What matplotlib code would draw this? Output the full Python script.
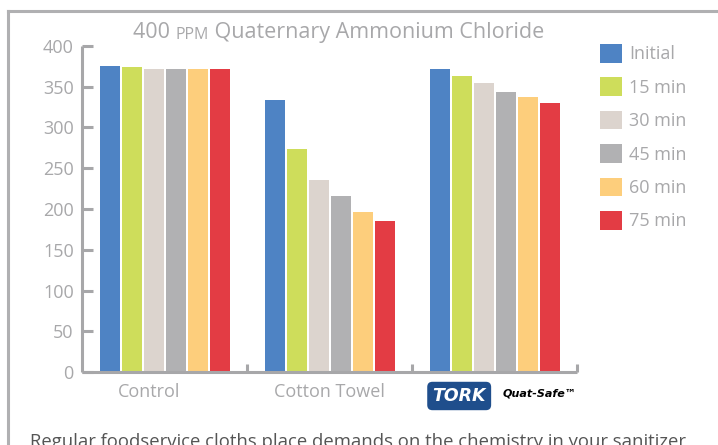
import numpy as np
import matplotlib.pyplot as plt
from matplotlib.lines import Line2D

categories = ["Control", "Cotton Towel", ""]
series = ["Initial", "15 min", "30 min", "45 min", "60 min", "75 min"]
control = [375, 374, 372, 371, 372, 371]
cotton = [333, 273, 235, 216, 196, 185]
quatsafe = [372, 363, 354, 344, 337, 330]
yticks = [0, 50, 100, 150, 200, 250, 300, 350, 400]

colors = ['#4E83C4', '#CEDD5B', '#DCD4CE', '#B1B1B3', '#FDCE7C', '#E33C44']
grey = '#A7A7A9'
txt = '#A8A8AA'

plt.rcParams['font.family'] = ['Open Sans', 'DejaVu Sans']

fig = plt.figure(figsize=(7.18, 4.45), dpi=100)
ax = fig.add_axes([82/718, 1 - 372.3/445, 495/718, 326.5/445])

values = np.array([control, cotton, quatsafe]).T
x = np.arange(len(categories))
pitch = 22/165
for i, name in enumerate(series):
    ax.bar(x + (i - 2.5)*pitch, values[i], width=20/165, color=colors[i],
           label=name, zorder=2)

ax.set_xlim(-0.5, 2.5)
ax.set_ylim(0, 400)
for s in ['top', 'right']:
    ax.spines[s].set_visible(False)
for s in ['left', 'bottom']:
    ax.spines[s].set_color(grey)
    ax.spines[s].set_linewidth(2.2)
    ax.spines[s].set_capstyle('butt')

ax.set_yticks(yticks)
ax.tick_params(axis='y', direction='in', length=8, width=2.2, color=grey,
               labelcolor=txt, labelsize=13, pad=6)
# the Control label sits a bit left of its group in the original
ax.set_xticks([-0.094, 1, 2])
ax.set_xticklabels(categories)
ax.tick_params(axis='x', length=0, labelcolor=txt, labelsize=13, pad=8)
ax.set_xticks([0.5, 1.5, 2.5], minor=True)
ax.tick_params(axis='x', which='minor', direction='in', length=6, width=2.2, color=grey)

# logos under third group, drawn as text
ax.text(0.762, -0.045, "TORK", transform=ax.transAxes, ha='center', va='top',
        fontsize=12.5, fontweight='bold', style='italic', color='white',
        family='DejaVu Sans',
        bbox=dict(boxstyle='round,pad=0.3', fc='#1F4E8C', ec='none'))
ax.text(0.925, -0.05, "Quat-Safe\u2122", transform=ax.transAxes, ha='center', va='top',
        fontsize=8, fontweight='bold', style='italic', color='black',
        family='DejaVu Sans')

# legend
ax.legend(loc='upper left', bbox_to_anchor=(600/718, 1 - 44/445),
          bbox_transform=fig.transFigure, frameon=False, fontsize=13,
          handlelength=1.2, handleheight=1.2, handletextpad=0.4,
          labelspacing=0.78, borderpad=0, borderaxespad=0, labelcolor=txt)

# title with small-caps PPM
t1 = fig.text(133/718, 1 - 38/445, "400 ", fontsize=15.5, color=txt, va='baseline')
t2 = plt.annotate("PPM", xy=(1, 0), xycoords=t1, xytext=(0, 0),
                  textcoords='offset points', fontsize=11.5, color=txt,
                  va='bottom', ha='left', annotation_clip=False)
plt.annotate(" Quaternary Ammonium Chloride", xy=(1, 0), xycoords=t2,
             fontsize=15.5, color=txt, va='bottom', ha='left', annotation_clip=False)

# frame lines
fig.add_artist(Line2D([8/718, 1], [1 - 11/445, 1 - 11/445], color='#B0B0B2', lw=2.2,
                      transform=fig.transFigure))
fig.add_artist(Line2D([8/718, 8/718], [0, 1 - 11/445], color='#B0B0B2', lw=2.2,
                      transform=fig.transFigure))

fig.text(30/718, 1 - 433/445,
         "Regular foodservice cloths place demands on the chemistry in your sanitizer",
         fontsize=13.3, color='#555555', va='top', ha='left')

fig.savefig("out.png", dpi=100)
